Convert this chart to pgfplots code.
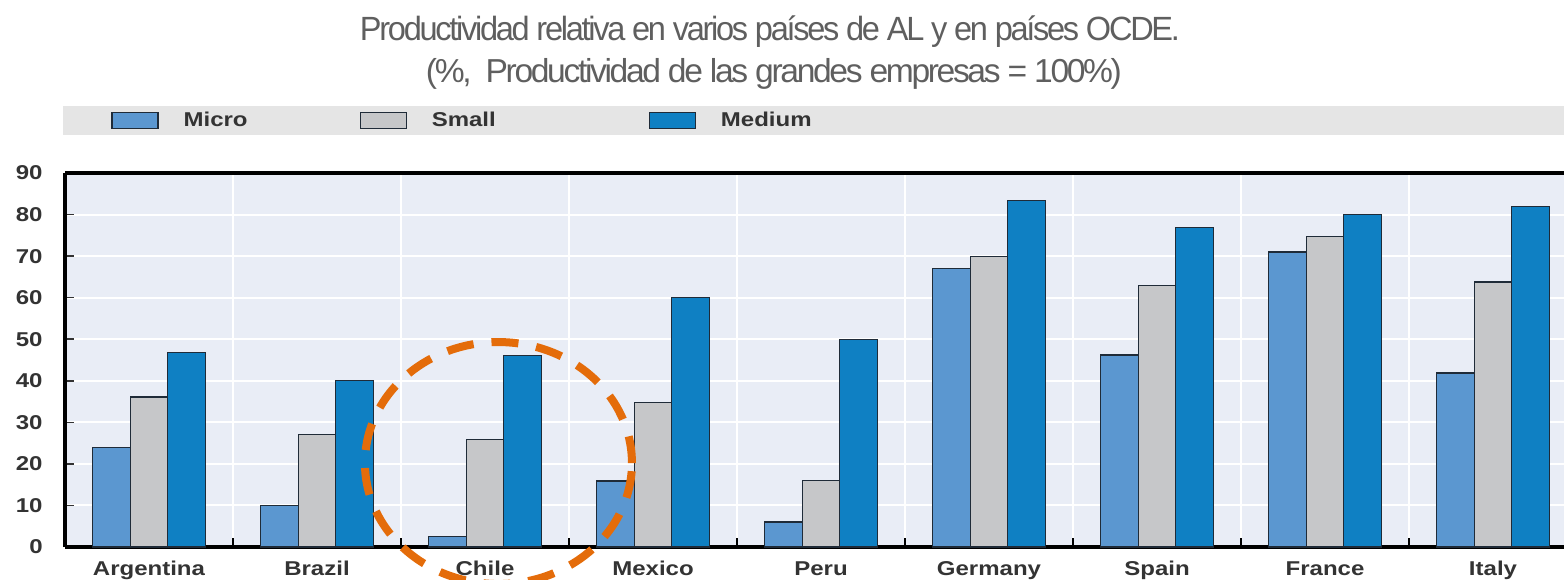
\documentclass[border=0pt]{standalone}
\usepackage{pgfplots}
\pgfplotsset{compat=1.18}
\usepackage{fontspec}
\setmainfont{Liberation Sans}
\newfontfamily\titlefont{Liberation Sans}[LetterSpace=-7]
\definecolor{bgc}{HTML}{E9EDF6}
\definecolor{bandc}{HTML}{E5E5E5}
\definecolor{microc}{HTML}{5B97D0}
\definecolor{smallc}{HTML}{C6C7C9}
\definecolor{mediumc}{HTML}{0F80C3}
\definecolor{edgec}{HTML}{1F2B38}
\definecolor{labc}{HTML}{333333}
\definecolor{titlec}{HTML}{5F5F5F}
\definecolor{orangec}{HTML}{E46C0A}
\newcommand\lbl[1]{\scalebox{1.2}[1]{\fontsize{10pt}{12pt}\selectfont\bfseries #1}}
\pgfplotsset{mybox/.style={legend image code/.code={\draw[##1,line width=0.6pt] (0pt,-4pt) rectangle (23pt,4pt);}}}
\begin{document}
\begin{tikzpicture}
\useasboundingbox (0pt,0pt) rectangle (782pt,-289.5pt);
\fill[bandc] (31.5pt,-53pt) rectangle (782pt,-67.5pt);
\node[anchor=base, text=titlec, inner sep=0pt] at (385pt,-20pt)
  {\resizebox{410pt}{\height}{\titlefont\fontsize{16.8pt}{20pt}\selectfont Productividad relativa en varios países de AL y en países OCDE.}};
\node[anchor=base, text=titlec, inner sep=0pt] at (387pt,-41pt)
  {\resizebox{348pt}{\height}{\titlefont\fontsize{16.6pt}{20pt}\selectfont (\%,\ \ Productividad de las grandes empresas = 100\%)}};
\begin{axis}[
  at={(32.5pt,-273.5pt)}, anchor=south west, scale only axis,
  width=749.5pt, height=187pt,
  xmin=-0.5, xmax=8.4226, ymin=0, ymax=90,
  ybar=0pt, bar width=18.75pt,
  axis background/.style={fill=bgc},
  axis x line*=box, axis y line*=left,
  axis line style={line width=2pt, black},
  clip=false,
  tick align=inside,
  major tick length=4.5pt,
  xtick pos=left, ytick pos=left,
  ytick={0,10,...,90},
  yticklabel={\lbl{\pgfmathprintnumber[assume math mode=true]{\tick}}},
  yticklabel style={anchor=east, inner sep=0pt, xshift=-11pt, text=labc},
  xtick={0.5,1.5,...,7.5},
  xticklabels={},
  xticklabel style={anchor=north, inner sep=0pt, yshift=-7pt, text=labc},
  extra x ticks={0,1,...,8},
  extra x tick labels={\lbl{Argentina},\lbl{Brazil},\lbl{Chile},\lbl{Mexico},\lbl{Peru},\lbl{Germany},\lbl{Spain},\lbl{France},\lbl{Italy}},
  extra x tick style={/pgfplots/major tick length=0pt, grid=none},
  x tick style={black, line width=0.8pt},
  y tick style={black!80, line width=0.8pt},
  ymajorgrids, xmajorgrids,
  grid style={white, line width=1pt},
  legend columns=3,
  legend style={at={(0.03069,1.1404)}, anchor=west, draw=none, fill=none, inner sep=0pt,
    column sep=0pt, /tikz/column 1/.style={column sep=12.5pt},
    /tikz/column 3/.style={column sep=12.5pt}, /tikz/column 5/.style={column sep=12.5pt},
    nodes={inner sep=0pt, text=labc}},
]
\addplot[fill=microc, draw=edgec, line width=0.6pt, mybox] coordinates {
 (0,24) (1,9.9) (2,2.6) (3,15.9) (4,6) (5,67.1) (6,46.2) (7,71) (8,41.9)};
\addplot[fill=smallc, draw=edgec, line width=0.6pt, mybox] coordinates {
 (0,36.1) (1,27) (2,25.9) (3,34.8) (4,16.1) (5,70) (6,63) (7,74.8) (8,63.8)};
\addplot[fill=mediumc, draw=edgec, line width=0.6pt, mybox] coordinates {
 (0,46.9) (1,40) (2,46) (3,60) (4,50) (5,83.3) (6,76.9) (7,80) (8,81.9)};
\legend{\makebox[88pt][l]{\lbl{Micro}},\makebox[108.5pt][l]{\lbl{Small}},\lbl{Medium}}
\draw[orangec, line width=4pt, dash pattern=on 13.5pt off 9pt] (axis cs:2.080,20.2) ellipse [x radius=66.75pt, y radius=60.5pt];
\end{axis}
\end{tikzpicture}
\end{document}
